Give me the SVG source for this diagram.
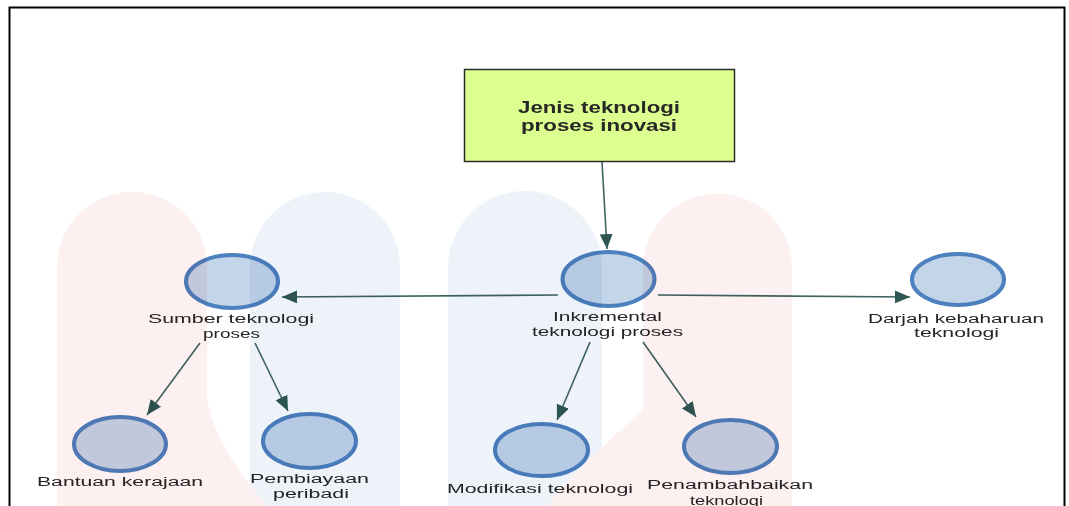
<svg xmlns="http://www.w3.org/2000/svg" width="1069" height="506" viewBox="0 0 1069 506">
  <defs>
    <marker id="arrow" markerUnits="userSpaceOnUse" markerWidth="16" markerHeight="13" refX="15" refY="6.5" orient="auto">
      <path d="M0,0 L15,6.5 L0,13 Z" fill="#2e5753"/>
    </marker>
    <style>
      .frame { fill: #ffffff; stroke: #000000; stroke-width: 2; }
      .title-box { fill: #ddff8f; stroke: #2b2b2b; stroke-width: 1.5; }
      .title { font-family: "Liberation Sans", Arial, sans-serif; font-weight: bold; font-size: 16px; fill: #262626; text-anchor: middle; }
      .node { fill: #c3d5e9; stroke: #4d80bf; stroke-width: 4; }
      .label { font-family: "Liberation Sans", Arial, sans-serif; font-size: 12.5px; fill: #242424; text-anchor: middle; }
      .link { fill: none; stroke: #3d6462; stroke-width: 1.6; marker-end: url(#arrow); }
      .wm { mix-blend-mode: multiply; }
      .wm-pink { fill: #fdf0f1; }
      .wm-blue { fill: #eef3f9; }
    </style>
  </defs>

  <rect width="1069" height="506" fill="#ffffff"/>
  <rect class="frame" x="9.5" y="7.5" width="1055" height="520"/>

  <!-- title box -->
  <g id="node-jenis">
    <rect class="title-box" x="464.5" y="69.5" width="270" height="92"/>
    <text class="title" x="599" y="112.5" textLength="162" lengthAdjust="spacingAndGlyphs">Jenis teknologi</text>
    <text class="title" x="599" y="130.5" textLength="156" lengthAdjust="spacingAndGlyphs">proses inovasi</text>
  </g>

  <!-- connectors -->
  <g id="connectors">
    <line class="link" x1="602" y1="162" x2="607" y2="249"/>
    <line class="link" x1="558" y1="295" x2="282" y2="297"/>
    <line class="link" x1="658" y1="295" x2="910" y2="297"/>
    <line class="link" x1="200" y1="343" x2="147" y2="415"/>
    <line class="link" x1="255" y1="343" x2="288" y2="411"/>
    <line class="link" x1="590" y1="342" x2="557" y2="420"/>
    <line class="link" x1="643" y1="342" x2="696" y2="417"/>
  </g>

  <!-- circle nodes -->
  <g id="node-sumber">
    <ellipse class="node" cx="232" cy="281.5" rx="46" ry="26.5"/>
    <text class="label" x="231" y="323" textLength="166" lengthAdjust="spacingAndGlyphs">Sumber teknologi</text>
    <text class="label" x="231.5" y="338" textLength="57" lengthAdjust="spacingAndGlyphs">proses</text>
  </g>
  <g id="node-inkremental">
    <ellipse class="node" cx="608.5" cy="279" rx="46" ry="27"/>
    <text class="label" x="607.5" y="321" textLength="109" lengthAdjust="spacingAndGlyphs">Inkremental</text>
    <text class="label" x="607.5" y="336" textLength="151" lengthAdjust="spacingAndGlyphs">teknologi proses</text>
  </g>
  <g id="node-darjah">
    <ellipse class="node" cx="958" cy="279.5" rx="46" ry="25.5"/>
    <text class="label" x="956" y="323" textLength="176" lengthAdjust="spacingAndGlyphs">Darjah kebaharuan</text>
    <text class="label" x="956.5" y="337" textLength="85" lengthAdjust="spacingAndGlyphs">teknologi</text>
  </g>
  <g id="node-bantuan">
    <ellipse class="node" cx="120" cy="444" rx="46" ry="27"/>
    <text class="label" x="120" y="486" textLength="166" lengthAdjust="spacingAndGlyphs">Bantuan kerajaan</text>
  </g>
  <g id="node-pembiayaan">
    <ellipse class="node" cx="309.5" cy="441" rx="46.5" ry="27"/>
    <text class="label" x="309.5" y="483" textLength="119" lengthAdjust="spacingAndGlyphs">Pembiayaan</text>
    <text class="label" x="311" y="498" textLength="76" lengthAdjust="spacingAndGlyphs">peribadi</text>
  </g>
  <g id="node-modifikasi">
    <ellipse class="node" cx="541.5" cy="450" rx="46.5" ry="26"/>
    <text class="label" x="540" y="493" textLength="186" lengthAdjust="spacingAndGlyphs">Modifikasi teknologi</text>
  </g>
  <g id="node-penambahbaikan">
    <ellipse class="node" cx="730.5" cy="446.5" rx="46.5" ry="26.5"/>
    <text class="label" x="730" y="489" textLength="166" lengthAdjust="spacingAndGlyphs">Penambahbaikan</text>
    <text class="label" x="726.5" y="505" textLength="73" lengthAdjust="spacingAndGlyphs">teknologi</text>
  </g>

  <!-- faint background emblem, blended over the drawing -->
  <g class="wm">
    <path class="wm-blue" d="M250,267 A75,75 0 0 1 400,267 L400,506 L250,506 Z"/>
    <path class="wm-pink" d="M57,267 A75,75 0 0 1 207,267 L207,400 C215,440 240,475 268,506 L57,506 Z"/>
    <path class="wm-blue" d="M448,268 A77,77 0 0 1 602,268 L602,506 L448,506 Z"/>
    <path class="wm-pink" d="M643,268 A74.5,74.5 0 0 1 792,268 L792,506 L547,506 C575,470 610,440 643,410 Z"/>
  </g>
</svg>
